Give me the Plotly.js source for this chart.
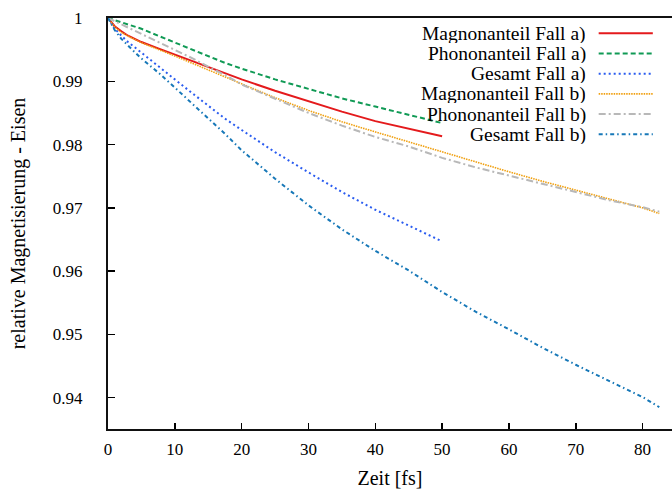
<!DOCTYPE html>
<html>
<head>
<meta charset="utf-8">
<script src="https://cdn.plot.ly/plotly-3.0.1.min.js"></script>
<style>html,body{margin:0;padding:0;background:#fff;}#chart{width:672px;height:492px;}</style>
</head>
<body>
<div id="chart"></div>
<script>
// Time axis (fs)
var timeA = [0, 1, 2, 3, 4, 5, 7.5, 10, 12.5, 15, 17.5, 20, 25, 30, 35, 40, 45, 50];
var timeB = [0, 1, 2, 3, 4, 5, 7.5, 10, 12.5, 15, 17.5, 20, 25, 30, 35, 40, 45, 50, 55, 60, 65, 70, 75, 80, 82.5];

// Fall a)
var magnonA = [1.0, 0.9987, 0.9979, 0.9972, 0.9967, 0.9962, 0.9952, 0.9942, 0.9932, 0.9922, 0.9912, 0.9903, 0.9885, 0.9868, 0.9852, 0.9837, 0.9825, 0.9813];
var phononA = [1.0, 0.99965, 0.9993, 0.9990, 0.99867, 0.9983, 0.9972, 0.9961, 0.9950, 0.9940, 0.9929, 0.9920, 0.9903, 0.9888, 0.9873, 0.9860, 0.9847, 0.9834];
var gesamtA = [1.0, 0.99835, 0.9972, 0.9962, 0.99537, 0.9945, 0.9924, 0.9903, 0.9882, 0.9862, 0.9841, 0.9823, 0.9788, 0.9756, 0.9725, 0.9697, 0.9672, 0.9647];

// Fall b)
var magnonB = [1.0, 0.9986, 0.9977, 0.9971, 0.9966, 0.9961, 0.9951, 0.9940, 0.9929, 0.9918, 0.9907, 0.9896, 0.9874, 0.9854, 0.9836, 0.9820, 0.9804, 0.9788, 0.9772, 0.9757, 0.9742, 0.9728, 0.9714, 0.9700, 0.9691];
var phononB = [1.0, 0.9995, 0.9990, 0.9985, 0.9980, 0.9975, 0.9963, 0.9950, 0.9937, 0.9923, 0.9910, 0.9895, 0.9872, 0.9850, 0.9830, 0.9812, 0.9797, 0.9779, 0.9764, 0.9751, 0.9737, 0.9724, 0.9712, 0.9701, 0.9694];
var gesamtB = [1.0, 0.9981, 0.9967, 0.9956, 0.9946, 0.9936, 0.9914, 0.9890, 0.9866, 0.9841, 0.9817, 0.9791, 0.9746, 0.9704, 0.9666, 0.9632, 0.9601, 0.9567, 0.9536, 0.9508, 0.9479, 0.9452, 0.9426, 0.9401, 0.9385];

var seriesNames = ["Magnonanteil Fall a)", "Phononanteil Fall a)", "Gesamt Fall a)", "Magnonanteil Fall b)", "Phononanteil Fall b)", "Gesamt Fall b)"];
var xTitle = "Zeit [fs]";
var yTitle = "relative Magnetisierung - Eisen";
var xTicks = [0, 10, 20, 30, 40, 50, 60, 70, 80];
var yTicks = [0.94, 0.95, 0.96, 0.97, 0.98, 0.99, 1];
var yTickText = ["0.94", "0.95", "0.96", "0.97", "0.98", "0.99", "1"];

var styles = [
  {color: "#e41a1c", dash: "solid", width: 2},
  {color: "#109a55", dash: "5px,3px", width: 2},
  {color: "#2a5cf0", dash: "2px,3px", width: 2},
  {color: "#f0a010", dash: "1.5px,1px", width: 1.6},
  {color: "#b8b8b8", dash: "7px,3px,2px,3px", width: 2},
  {color: "#1778b8", dash: "4px,3px,1.5px,3px", width: 2}
];
var xs = [timeA, timeA, timeA, timeB, timeB, timeB];
var ys = [magnonA, phononA, gesamtA, magnonB, phononB, gesamtB];

var traces = [];
for (var i = 0; i < seriesNames.length; i++) {
  traces.push({
    x: xs[i], y: ys[i], name: seriesNames[i], type: "scatter", mode: "lines",
    line: {color: styles[i].color, dash: styles[i].dash, width: styles[i].width},
    showlegend: false, hoverinfo: "skip"
  });
}

var serif = "'Liberation Serif', 'Times New Roman', Times, serif";

// custom legend: right-aligned text with line sample to the right
var annotations = [];
var shapes = [];
var legTextX = 0.849, legLineX0 = 0.870, legLineX1 = 0.966, legY0 = 0.963, legStep = 0.0492;
for (var j = 0; j < seriesNames.length; j++) {
  var yy = legY0 - j * legStep;
  annotations.push({
    xref: "paper", yref: "paper", x: legTextX, y: yy, xanchor: "right", yanchor: "middle",
    text: seriesNames[j], showarrow: false, height: 19, valign: "middle", borderpad: 0,
    font: {family: serif, size: 19.5, color: "#000"}
  });
  shapes.push({
    type: "line", xref: "paper", yref: "paper", x0: legLineX0, x1: legLineX1, y0: yy, y1: yy,
    line: {color: styles[j].color, dash: styles[j].dash, width: styles[j].width}
  });
}

var layout = {
  width: 672, height: 492,
  margin: {l: 108, r: 0, t: 18, b: 63},
  paper_bgcolor: "#fff", plot_bgcolor: "#fff",
  font: {family: serif, size: 17, color: "#000"},
  showlegend: false,
  xaxis: {
    range: [0, 84.4], tickvals: xTicks, ticktext: xTicks.map(String),
    ticks: "inside", ticklen: 6, tickwidth: 1.5, tickcolor: "#000",
    showline: true, linecolor: "#111", linewidth: 2, mirror: true,
    showgrid: false, zeroline: false, ticklabelstandoff: 4,
    tickfont: {family: serif, size: 17, color: "#000"},
    title: {text: xTitle, font: {family: serif, size: 20, color: "#000"}, standoff: 13}
  },
  yaxis: {
    range: [0.93505, 1.0], tickvals: yTicks, ticktext: yTickText,
    ticks: "inside", ticklen: 7, tickwidth: 1.5, tickcolor: "#000",
    showline: true, linecolor: "#111", linewidth: 2, mirror: false,
    showgrid: false, zeroline: false, ticklabelstandoff: 20,
    tickfont: {family: serif, size: 17, color: "#000"},
    title: {text: yTitle, font: {family: serif, size: 20, color: "#000"}, standoff: 22}
  },
  annotations: annotations,
  shapes: shapes
};

Plotly.newPlot("chart", traces, layout, {staticPlot: true, displayModeBar: false});
</script>
</body>
</html>
